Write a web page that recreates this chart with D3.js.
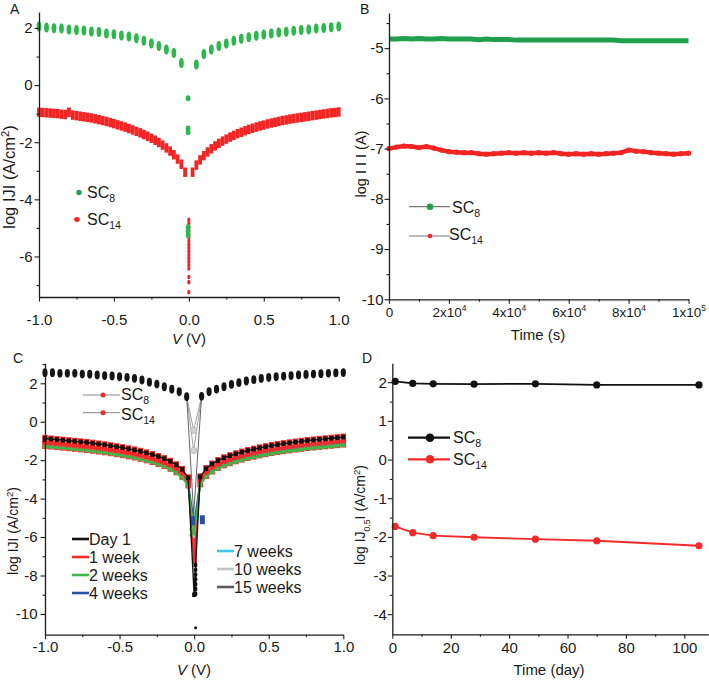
<!DOCTYPE html>
<html><head><meta charset="utf-8">
<script src="https://cdn.jsdelivr.net/npm/d3@7"></script>
<style>
body{margin:0;background:#fff}
svg{display:block}
text{font-family:Arial,"Liberation Sans",sans-serif;fill:#1a1a1a}
</style>
</head><body>
<svg id="chart" width="709" height="681"></svg>
<script>
// ---------------- DATA ----------------
// Panel A: log|J| vs V
const sc8A = [2.05,2.02,1.99,1.98,1.95,1.93,1.91,1.88,1.86,1.81,1.78,1.74,1.70,1.64,1.55,1.46,1.37,1.25,1.12,0.77,
              0.72,1.09,1.25,1.37,1.46,1.55,1.62,1.68,1.73,1.77,1.81,1.84,1.87,1.90,1.93,1.95,1.98,2.00,2.03,2.05];
const sc8ACenter = [-0.46,-1.52,-1.65,-4.98,-5.12,-5.26];
const sc14A = [-0.95,-0.96,-0.97,-0.98,-0.99,-1.00,-1.02,-1.03,-0.95,-1.05,-1.07,-1.09,-1.11,-1.13,-1.15,-1.18,-1.21,-1.24,-1.27,-1.31,
               -1.35,-1.39,-1.43,-1.47,-1.52,-1.57,-1.62,-1.67,-1.73,-1.79,-1.86,-1.93,-2.01,-2.10,-2.20,-2.31,-2.44,-2.59,-2.77,-3.05,
               -3.05,-2.80,-2.62,-2.47,-2.34,-2.23,-2.13,-2.04,-1.96,-1.89,-1.82,-1.76,-1.70,-1.65,-1.60,-1.55,-1.51,-1.47,-1.43,-1.40,
               -1.36,-1.33,-1.30,-1.27,-1.24,-1.22,-1.19,-1.17,-1.15,-1.13,-1.11,-1.09,-1.07,-1.05,-1.03,-1.01,-0.99,-0.97,-0.96,-0.94];
const sc14ACenter = [-4.72,-4.85,-4.98,-5.10,-5.22,-5.34,-5.46,-5.58,-5.70,-5.82,-5.94,-6.06,-6.18,-6.30,-6.42,-6.72,-6.90,-7.25];

// Panel B: log|I| vs time
const sc8B = [-4.82,-4.82,-4.81,-4.82,-4.81,-4.82,-4.82,-4.81,-4.82,-4.82,-4.82,-4.82,-4.83,-4.82,-4.83,-4.83,-4.83,-4.84,-4.84,-4.84,
              -4.84,-4.84,-4.84,-4.84,-4.84,-4.84,-4.84,-4.84,-4.84,-4.84,-4.84,-4.85,-4.85,-4.85,-4.85,-4.85,-4.85,-4.85,-4.85,-4.85,-4.85];
const sc14B = [-7.00,-6.97,-6.95,-6.96,-6.98,-6.96,-6.99,-7.03,-7.06,-7.07,-7.08,-7.08,-7.10,-7.11,-7.10,-7.09,-7.08,-7.09,-7.08,-7.09,
               -7.08,-7.09,-7.08,-7.10,-7.11,-7.10,-7.11,-7.10,-7.11,-7.10,-7.09,-7.08,-7.03,-7.05,-7.06,-7.08,-7.09,-7.10,-7.11,-7.10,-7.09];
const bTickLabels = ["0","2x10","4x10","6x10","8x10","1x10"];
const bTickExps   = ["","4","4","4","4","5"];

// Panel C: ageing of SC8 / SC14 junctions
const sc8C = [2.55,2.55,2.52,2.52,2.52,2.48,2.47,2.43,2.40,2.38,2.34,2.31,2.26,2.17,2.06,1.96,1.82,1.69,1.56,1.30,
              1.32,1.56,1.69,1.82,1.94,2.03,2.12,2.19,2.25,2.30,2.34,2.37,2.40,2.43,2.46,2.48,2.50,2.52,2.54,2.56];
const sc8CCenter = [-0.45,-1.50,-4.80];
const day1 = [-0.87,-0.90,-0.93,-0.96,-0.99,-1.02,-1.05,-1.08,-1.12,-1.16,-1.20,-1.25,-1.30,-1.35,-1.41,-1.47,-1.54,-1.62,-1.71,-1.81,-1.92,-2.06,-2.24,-2.48,-2.92,
              -9.00,
              -2.87,-2.44,-2.20,-2.02,-1.88,-1.77,-1.67,-1.58,-1.50,-1.43,-1.36,-1.30,-1.24,-1.19,-1.14,-1.10,-1.06,-1.02,-0.98,-0.95,-0.92,-0.89,-0.86,-0.83,-0.80];
const week1 = [-1.05,-1.08,-1.11,-1.14,-1.17,-1.20,-1.23,-1.26,-1.30,-1.34,-1.38,-1.43,-1.48,-1.53,-1.59,-1.65,-1.72,-1.80,-1.89,-1.99,-2.10,-2.24,-2.42,-2.66,-3.10,
              -7.40,
              -3.05,-2.62,-2.38,-2.20,-2.06,-1.95,-1.85,-1.76,-1.68,-1.61,-1.54,-1.48,-1.42,-1.37,-1.32,-1.28,-1.24,-1.20,-1.16,-1.13,-1.10,-1.07,-1.04,-1.01,-0.98];
const week2 = [-1.29,-1.32,-1.35,-1.38,-1.41,-1.44,-1.47,-1.50,-1.54,-1.58,-1.62,-1.67,-1.72,-1.77,-1.83,-1.89,-1.96,-2.04,-2.13,-2.23,-2.34,-2.48,-2.66,-2.90,-3.34,
              -5.80,
              -3.29,-2.86,-2.62,-2.44,-2.30,-2.19,-2.09,-2.00,-1.92,-1.85,-1.78,-1.72,-1.66,-1.61,-1.56,-1.52,-1.48,-1.44,-1.40,-1.37,-1.34,-1.31,-1.28,-1.25,-1.22];
const week4 = [-1.11,-1.14,-1.17,-1.20,-1.23,-1.26,-1.29,-1.32,-1.36,-1.40,-1.44,-1.49,-1.54,-1.59,-1.65,-1.71,-1.78,-1.86,-1.95,-2.05,-2.16,-2.30,-2.48,-2.72,-3.16,
              -5.20,
              -3.11,-2.68,-2.44,-2.26,-2.12,-2.01,-1.91,-1.82,-1.74,-1.67,-1.60,-1.54,-1.48,-1.43,-1.38,-1.34,-1.30,-1.26,-1.22,-1.19,-1.16,-1.13,-1.10,-1.07,-1.04];
const week7 = [-1.17,-1.20,-1.23,-1.26,-1.29,-1.32,-1.35,-1.38,-1.42,-1.46,-1.50,-1.55,-1.60,-1.65,-1.71,-1.77,-1.84,-1.92,-2.01,-2.11,-2.22,-2.36,-2.54,-2.78,-3.22,
              -7.20,
              -3.17,-2.74,-2.50,-2.32,-2.18,-2.07,-1.97,-1.88,-1.80,-1.73,-1.66,-1.60,-1.54,-1.49,-1.44,-1.40,-1.36,-1.32,-1.28,-1.25,-1.22,-1.19,-1.16,-1.13,-1.10];
const week10 = [-1.21,-1.24,-1.27,-1.30,-1.33,-1.36,-1.39,-1.42,-1.46,-1.50,-1.54,-1.59,-1.64,-1.69,-1.75,-1.81,-1.88,-1.96,-2.05,-2.15,-2.26,-2.40,-2.58,-2.82,-3.26,
              -6.40,
              -3.21,-2.78,-2.54,-2.36,-2.22,-2.11,-2.01,-1.92,-1.84,-1.77,-1.70,-1.64,-1.58,-1.53,-1.48,-1.44,-1.40,-1.36,-1.32,-1.29,-1.26,-1.23,-1.20,-1.17,-1.14];
const week15 = [-1.25,-1.28,-1.31,-1.34,-1.37,-1.40,-1.43,-1.46,-1.50,-1.54,-1.58,-1.63,-1.68,-1.73,-1.79,-1.85,-1.92,-2.00,-2.09,-2.19,-2.30,-2.44,-2.62,-2.86,-3.30,
              -6.00,
              -3.25,-2.82,-2.58,-2.40,-2.26,-2.15,-2.05,-1.96,-1.88,-1.81,-1.74,-1.68,-1.62,-1.57,-1.52,-1.48,-1.44,-1.40,-1.36,-1.33,-1.30,-1.27,-1.24,-1.21,-1.18];
const day1Column = [-7.45,-7.70,-7.95,-8.20,-8.45,-8.70,-8.95];
const day1Outlier = [-10.72];
const week1Column = [-6.20,-6.50,-6.80,-7.10,-7.40];
const week4Blobs = [-5.15,-5.10];
const week2Bits = [-5.60,-5.90];
const ageLabels = ["Day 1","1 week","2 weeks","4 weeks","7 weeks","10 weeks","15 weeks"];

// Panel D: log|J0.5| vs ageing time
const days = [1,7,14,28,49,70,105];
const sc8D = [2.02,1.97,1.96,1.95,1.96,1.93,1.93];
const sc14D = [-1.73,-1.89,-1.97,-2.01,-2.06,-2.10,-2.23];

// ---------------- HELPERS ----------------
const svg = d3.select("#chart");
const grid = (start, step, n) => d3.range(n).map(i => +(start + i * step).toFixed(4));
const AX = "#1e1e1e";

function drawAxes(x, y, o) {
  const y0 = y.range()[0], x0 = x.range()[0];
  const style = g => {
    g.attr("font-family", null).attr("font-size", null);
    g.selectAll(".tick line").attr("stroke", AX).attr("stroke-width", 1.1);
    g.select(".domain").attr("stroke", AX).attr("stroke-width", 1.3);
    g.selectAll("text").attr("font-size", o.fs || 15).attr("fill", "#1a1a1a");
  };
  const bx = svg.append("g").attr("transform", `translate(0,${y0})`)
    .call(d3.axisBottom(x).tickValues(o.xMajor).tickSize(4.5).tickSizeOuter(0).tickPadding(o.xPad).tickFormat(o.xFmt)).call(style);
  svg.append("g").attr("transform", `translate(0,${y0})`)
    .call(d3.axisBottom(x).tickValues(o.xMinor).tickSize(2.5).tickSizeOuter(0).tickFormat("")).call(style)
    .call(g => g.select(".domain").remove());
  const ly = svg.append("g").attr("transform", `translate(${x0},0)`)
    .call(d3.axisLeft(y).tickValues(o.yMajor).tickSize(4.5).tickSizeOuter(0).tickPadding(o.yPad).tickFormat(o.yFmt)).call(style);
  svg.append("g").attr("transform", `translate(${x0},0)`)
    .call(d3.axisLeft(y).tickValues(o.yMinor).tickSize(2.5).tickSizeOuter(0).tickFormat("")).call(style)
    .call(g => g.select(".domain").remove());
  return {bx, ly};
}
const f1 = d => d.toFixed(1);
const f0 = d => String(d);

function yTitle(x, y, size, parts) {
  const t = svg.append("text").attr("transform", `translate(${x},${y}) rotate(-90)`)
    .attr("text-anchor", "middle").attr("font-size", size);
  parts.forEach(p => {
    const s = t.append("tspan").text(p.t);
    if (p.sup) s.attr("font-size", size * 0.68).attr("baseline-shift", "super");
    if (p.sub) s.attr("font-size", size * 0.62).attr("baseline-shift", "sub");
  });
  return t;
}
function label(x, y, main, sub, size) {
  const t = svg.append("text").attr("x", x).attr("y", y).attr("font-size", size);
  t.append("tspan").text(main);
  if (sub) t.append("tspan").attr("font-size", size * 0.66).attr("dy", size * 0.28).text(sub);
  return t;
}
function letter(x, y, s) {
  svg.append("text").attr("x", x).attr("y", y).attr("font-size", 14).text(s);
}

// ---------------- PANEL A ----------------
{
  const x = d3.scaleLinear().domain([-1, 1]).range([39, 338.7]);
  const y = d3.scaleLinear().domain([-7.42, 2.56]).range([297, 12]);
  const vA8 = grid(-1, 0.05, 20).concat(grid(0.05, 0.05, 20));
  const vA14 = grid(-1, 0.025, 40).concat(grid(0.025, 0.025, 40));
  const red = "#f22424", green = "#2cb84c";

  svg.append("g").selectAll("rect").data(sc14A).join("rect")
    .attr("x", (d, i) => x(vA14[i]) - 1.9).attr("y", d => y(d) - 4.7)
    .attr("width", 3.8).attr("height", 9.4).attr("fill", red);
  svg.append("g").selectAll("ellipse").data(sc14ACenter).join("ellipse")
    .attr("cx", x(0)).attr("cy", d => y(d)).attr("rx", 1.6).attr("ry", 2.3).attr("fill", red);
  svg.append("g").selectAll("ellipse").data(sc8A).join("ellipse")
    .attr("cx", (d, i) => x(vA8[i])).attr("cy", d => y(d)).attr("rx", 2.4).attr("ry", 5).attr("fill", green);
  svg.append("g").selectAll("ellipse").data(sc8ACenter).join("ellipse")
    .attr("cx", x(-0.005)).attr("cy", d => y(d)).attr("rx", 2.4).attr("ry", 3).attr("fill", green);

  drawAxes(x, y, {xMajor: [-1, -0.5, 0, 0.5, 1], xMinor: [-0.75, -0.25, 0.25, 0.75], xFmt: f1, xPad: 13,
                  yMajor: [-6, -4, -2, 0, 2], yMinor: [-7, -5, -3, -1, 1], yFmt: f0, yPad: 2});

  svg.append("circle").attr("cx", 79).attr("cy", 192.5).attr("r", 2.7).attr("fill", "#1ea35a");
  label(87, 198, "SC", "8", 16);
  svg.append("ellipse").attr("cx", 77).attr("cy", 219.5).attr("rx", 2.8).attr("ry", 2.4).attr("fill", red);
  label(87, 225, "SC", "14", 16);

  const t = svg.append("text").attr("x", 189).attr("y", 344).attr("text-anchor", "middle").attr("font-size", 15);
  t.append("tspan").attr("font-style", "italic").text("V");
  t.append("tspan").text(" (V)");
  yTitle(15, 177, 16.5, [{t: "log IJI (A/cm"}, {t: "2", sup: true}, {t: ")"}]);
  letter(10, 14, "A");
}

// ---------------- PANEL B ----------------
{
  const x = d3.scaleLinear().domain([0, 100000]).range([389, 688.5]);
  const y = d3.scaleLinear().domain([-10, -4.3]).range([299.3, 13]);
  const tB = grid(0, 2500, 41);
  const line = d3.line().x((d, i) => x(tB[i])).y(d => y(d));
  svg.append("path").datum(sc8B).attr("d", line).attr("fill", "none").attr("stroke", "#20a04c").attr("stroke-width", 5);
  svg.append("path").datum(sc14B).attr("d", line).attr("fill", "none").attr("stroke", "#f22424").attr("stroke-width", 4.5);
  svg.append("g").selectAll("circle").data(sc14B).join("circle")
    .attr("cx", (d, i) => x(tB[i])).attr("cy", d => y(d)).attr("r", 2.7).attr("fill", "#f22424");

  const {bx} = drawAxes(x, y, {xMajor: [0, 20000, 40000, 60000, 80000, 100000], xMinor: [10000, 30000, 50000, 70000, 90000],
                  xFmt: f0, xPad: 4, yMajor: [-10, -9, -8, -7, -6, -5], yMinor: [-9.5, -8.5, -7.5, -6.5, -5.5, -4.5],
                  yFmt: f0, yPad: 1});
  bx.selectAll(".tick text").each(function(d, i) {
    const t = d3.select(this).text(null).attr("font-size", 13.5);
    t.append("tspan").text(bTickLabels[i]);
    if (bTickExps[i]) t.append("tspan").attr("font-size", 8.5).attr("dy", -6).text(bTickExps[i]);
  });

  svg.append("line").attr("x1", 409).attr("x2", 450).attr("y1", 206.7).attr("y2", 206.7).attr("stroke", "#555").attr("stroke-width", 1);
  svg.append("circle").attr("cx", 430).attr("cy", 206.7).attr("r", 3.3).attr("fill", "#20a04c");
  label(452, 213, "SC", "8", 16);
  svg.append("line").attr("x1", 409).attr("x2", 450).attr("y1", 236).attr("y2", 236).attr("stroke", "#777").attr("stroke-width", 1);
  svg.append("circle").attr("cx", 430).attr("cy", 236).attr("r", 2.3).attr("fill", "#f22424");
  label(449, 240, "SC", "14", 16);

  svg.append("text").attr("x", 538).attr("y", 340).attr("text-anchor", "middle").attr("font-size", 15).text("Time (s)");
  yTitle(366, 164, 14.5, [{t: "log I I I (A)"}]);
  letter(360, 14, "B");
}

// ---------------- PANEL C ----------------
{
  const x = d3.scaleLinear().domain([-1, 1]).range([45, 343.3]);
  const y = d3.scaleLinear().domain([-11.08, 3.04]).range([634.7, 363.3]);
  const vC = grid(-1, 0.04, 25).concat([0], grid(0.04, 0.04, 25));
  const vC8 = grid(-1, 0.05, 20).concat(grid(0.05, 0.05, 20));
  const line = d3.line().x((d, i) => x(vC[i])).y(d => y(d));
  const cols = {day1: "#111", w1: "#f42a2a", w2: "#3db84a", w4: "#2a4fa6", w7: "#3cc8e6", w10: "#c4c4c4", w15: "#5a5a5a"};

  [[week15, cols.w15], [week10, cols.w10], [week7, cols.w7], [week4, cols.w4]].forEach(([arr, c]) => {
    svg.append("path").datum(arr).attr("d", line).attr("fill", "none").attr("stroke", c).attr("stroke-width", 1.4);
    svg.append("g").selectAll("rect").data(arr).join("rect")
      .attr("x", (d, i) => x(vC[i]) - 2).attr("y", d => y(d) - 2).attr("width", 4).attr("height", 4).attr("fill", c);
  });
  svg.append("path").datum(week1).attr("d", line).attr("fill", "none").attr("stroke", cols.w1).attr("stroke-width", 1.6);
  svg.append("g").selectAll("rect").data(week1.filter((d, i) => i !== 25)).join("rect")
    .attr("x", (d, i) => x(vC[i < 25 ? i : i + 1]) - 2.8).attr("y", d => y(d) - 7)
    .attr("width", 5.6).attr("height", 14).attr("fill", cols.w1);
  svg.append("g").selectAll("rect").data(week1Column).join("rect")
    .attr("x", x(0.005) - 1.6).attr("y", d => y(d) - 3).attr("width", 3.2).attr("height", 6).attr("fill", cols.w1);
  svg.append("path").datum(week2).attr("d", line).attr("fill", "none").attr("stroke", cols.w2).attr("stroke-width", 2);
  svg.append("g").selectAll("rect").data(week2).join("rect")
    .attr("x", (d, i) => x(vC[i]) - 1.8).attr("y", d => y(d) - 1.8).attr("width", 3.6).attr("height", 3.6).attr("fill", cols.w2);
  svg.append("g").selectAll("rect").data(week2Bits).join("rect")
    .attr("x", x(-0.02) - 1.5).attr("y", d => y(d) - 1.5).attr("width", 3).attr("height", 3).attr("fill", cols.w2);
  svg.append("g").selectAll("rect").data(week4Blobs).join("rect")
    .attr("x", (d, i) => x([-0.01, 0.055][i]) - 2.5).attr("y", d => y(d) - 4.5).attr("width", 5).attr("height", 9).attr("fill", cols.w4);
  svg.append("path").datum(day1).attr("d", line).attr("fill", "none").attr("stroke", cols.day1).attr("stroke-width", 1.4);
  svg.append("g").selectAll("rect").data(day1).join("rect")
    .attr("x", (d, i) => x(vC[i]) - 2).attr("y", d => y(d) - 2.3).attr("width", 4).attr("height", 4.6).attr("fill", cols.day1);
  svg.append("g").selectAll("ellipse").data(day1Column).join("ellipse")
    .attr("cx", x(0.01)).attr("cy", d => y(d)).attr("rx", 1.8).attr("ry", 2.6).attr("fill", cols.day1);
  svg.append("g").selectAll("circle").data(day1Outlier).join("circle")
    .attr("cx", x(0.01)).attr("cy", d => y(d)).attr("r", 1.5).attr("fill", cols.day1);

  const xl = x(-0.05), xr = x(0.05), yl = y(sc8C[19]), yr = y(sc8C[20]);
  sc8CCenter.forEach((v, i) => {
    svg.append("path").attr("d", `M${xl},${yl}L${x(-0.003)},${y(v)}L${xr},${yr}`)
      .attr("fill", "none").attr("stroke", i === 2 ? "#555" : "#999").attr("stroke-width", 0.9);
  });
  svg.append("g").selectAll("circle").data(sc8CCenter.slice(0, 2)).join("circle")
    .attr("cx", x(-0.003)).attr("cy", d => y(d)).attr("r", 3.2).attr("fill", "#d2d2d2").attr("stroke", "#aaa").attr("stroke-width", 0.6);
  svg.append("g").selectAll("ellipse").data(sc8C).join("ellipse")
    .attr("cx", (d, i) => x(vC8[i])).attr("cy", d => y(d)).attr("rx", 2.6).attr("ry", 4.4).attr("fill", "#151515");

  drawAxes(x, y, {xMajor: [-1, -0.5, 0, 0.5, 1], xMinor: [-0.75, -0.25, 0.25, 0.75], xFmt: f1, xPad: 2.5,
                  yMajor: [-10, -8, -6, -4, -2, 0, 2], yMinor: [-9, -7, -5, -3, -1, 1, 3], yFmt: f0, yPad: 3});

  [[395, "8", 400], [412.7, "14", 420]].forEach(([ly, sub, by]) => {
    svg.append("line").attr("x1", 83).attr("x2", 120).attr("y1", ly).attr("y2", ly).attr("stroke", "#888").attr("stroke-width", 1);
    svg.append("circle").attr("cx", 103).attr("cy", ly).attr("r", 2.5).attr("fill", "#f42a2a");
    label(121, by, "SC", sub, 16);
  });
  const legC = [[72, 539, cols.day1], [72, 557, cols.w1], [72, 575, cols.w2], [72, 593, cols.w4],
                [217, 551, cols.w7], [217, 569, cols.w10], [217, 587, cols.w15]];
  legC.forEach(([lx, ly, c], i) => {
    svg.append("line").attr("x1", lx).attr("x2", lx + 17).attr("y1", ly).attr("y2", ly).attr("stroke", c).attr("stroke-width", 2.6);
    svg.append("text").attr("x", lx + 17).attr("y", ly + 6).attr("font-size", 16).text(ageLabels[i]);
  });

  const t = svg.append("text").attr("x", 194).attr("y", 675).attr("text-anchor", "middle").attr("font-size", 15);
  t.append("tspan").attr("font-style", "italic").text("V");
  t.append("tspan").text(" (V)");
  yTitle(18, 531, 14, [{t: "log IJI (A/cm"}, {t: "2", sup: true}, {t: ")"}]);
  letter(13, 363, "C");
}

// ---------------- PANEL D ----------------
{
  const x = d3.scaleLinear().domain([0, 108.2]).range([392.3, 708.3]);
  const y = d3.scaleLinear().domain([-4.52, 2.49]).range([634.3, 363.3]);
  const line = d3.line().x((d, i) => x(days[i])).y(d => y(d));
  [[sc8D, "#111"], [sc14D, "#f42a2a"]].forEach(([arr, c]) => {
    svg.append("path").datum(arr).attr("d", line).attr("fill", "none").attr("stroke", c).attr("stroke-width", 1.8);
    svg.append("g").selectAll("circle").data(arr).join("circle")
      .attr("cx", (d, i) => x(days[i])).attr("cy", d => y(d)).attr("r", 3.6).attr("fill", c);
  });
  drawAxes(x, y, {xMajor: [0, 20, 40, 60, 80, 100], xMinor: [10, 30, 50, 70, 90], xFmt: f0, xPad: 3.5,
                  yMajor: [-4, -3, -2, -1, 0, 1, 2], yMinor: [-3.5, -2.5, -1.5, -0.5, 0.5, 1.5], yFmt: f0, yPad: 1});

  [[437.7, "8", 443, "#111"], [459.3, "14", 465, "#f42a2a"]].forEach(([ly, sub, by, c]) => {
    svg.append("line").attr("x1", 408).attr("x2", 450).attr("y1", ly).attr("y2", ly).attr("stroke", c).attr("stroke-width", 2.2);
    svg.append("circle").attr("cx", 430).attr("cy", ly).attr("r", 4.3).attr("fill", c);
    label(453, by, "SC", sub, 16);
  });

  svg.append("text").attr("x", 549).attr("y", 675).attr("text-anchor", "middle").attr("font-size", 15).text("Time (day)");
  yTitle(365, 515, 14, [{t: "log IJ"}, {t: "0.5", sub: true}, {t: "I (A/cm"}, {t: "2", sup: true}, {t: ")"}]);
  letter(362, 363, "D");
}
</script>
</body></html>
